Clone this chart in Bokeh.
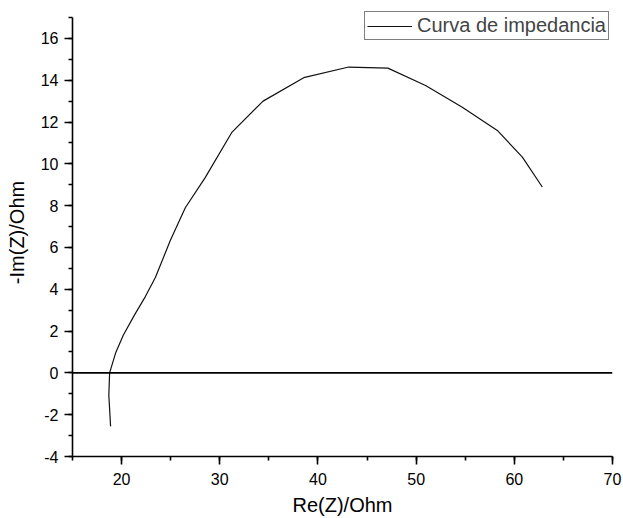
from bokeh.plotting import figure
from bokeh.models import Range1d, SingleIntervalTicker, Span, Legend, LegendItem, PrintfTickFormatter
from bokeh.embed import file_html
from bokeh.resources import INLINE

# Nyquist data
re_z = [18.88, 18.70, 18.78, 19.41, 20.17, 21.29, 22.42, 23.44, 24.96, 26.49,
        28.53, 31.25, 34.41, 38.55, 43.14, 47.12, 50.96, 54.70, 58.27, 60.82, 62.85]
neg_im_z = [-2.56, -1.08, 0.0, 0.98, 1.80, 2.75, 3.65, 4.56, 6.33, 7.90,
            9.35, 11.52, 13.00, 14.12, 14.63, 14.58, 13.75, 12.71, 11.60, 10.32, 8.89]
series_name = "Curva de impedancia"
x_label = "Re(Z)/Ohm"
y_label = "-Im(Z)/Ohm"

FONT = "Liberation Sans"

p = figure(width=623, height=518, output_backend="svg", toolbar_location=None,
           x_range=Range1d(15, 70), y_range=Range1d(-4, 17.43),
           min_border_left=72, min_border_right=11, min_border_top=8, min_border_bottom=62)
p.outline_line_color = None
p.xgrid.visible = False
p.ygrid.visible = False
p.background_fill_color = "white"
p.border_fill_color = "white"

p.xaxis.ticker = SingleIntervalTicker(interval=10, num_minor_ticks=2)
p.yaxis.ticker = SingleIntervalTicker(interval=2, num_minor_ticks=2)
p.xaxis.formatter = PrintfTickFormatter(format="%d")
p.yaxis.formatter = PrintfTickFormatter(format="%d")
p.yaxis.bounds = (-4, 17)

for ax in (p.xaxis[0], p.yaxis[0]):
    ax.axis_line_color = "black"
    ax.axis_line_width = 1.6
    ax.major_tick_line_color = "black"
    ax.major_tick_line_width = 1.6
    ax.minor_tick_line_color = "black"
    ax.minor_tick_line_width = 1.6
    ax.major_tick_in = 0
    ax.major_tick_out = 8
    ax.minor_tick_in = 0
    ax.minor_tick_out = 4
    ax.major_label_text_font = FONT
    ax.major_label_text_font_size = "16px"
    ax.major_label_text_color = "black"
    ax.axis_label_text_font = FONT
    ax.axis_label_text_font_size = "20px"
    ax.axis_label_text_font_style = "normal"
    ax.axis_label_text_color = "black"

p.xaxis.axis_label = x_label
p.yaxis.axis_label = y_label
p.xaxis.major_label_standoff = 8
p.yaxis.major_label_standoff = 6
p.xaxis.axis_label_standoff = 6
p.yaxis.axis_label_standoff = 10

zero = Span(location=0, dimension="width", line_color="black", line_width=1.6)
p.add_layout(zero)

r = p.line(re_z, neg_im_z, line_color="#111111", line_width=1.2)

legend = Legend(items=[LegendItem(label=series_name, renderers=[r])],
                location="top_right", margin=3, padding=2, spacing=0,
                label_text_font=FONT, label_text_font_size="20px",
                label_height=16, glyph_height=16, glyph_width=45,
                label_standoff=5, border_line_color="black", border_line_width=1,
                background_fill_color="white", background_fill_alpha=1.0)
p.add_layout(legend)

open("out.html", "w").write(file_html(p, INLINE))
